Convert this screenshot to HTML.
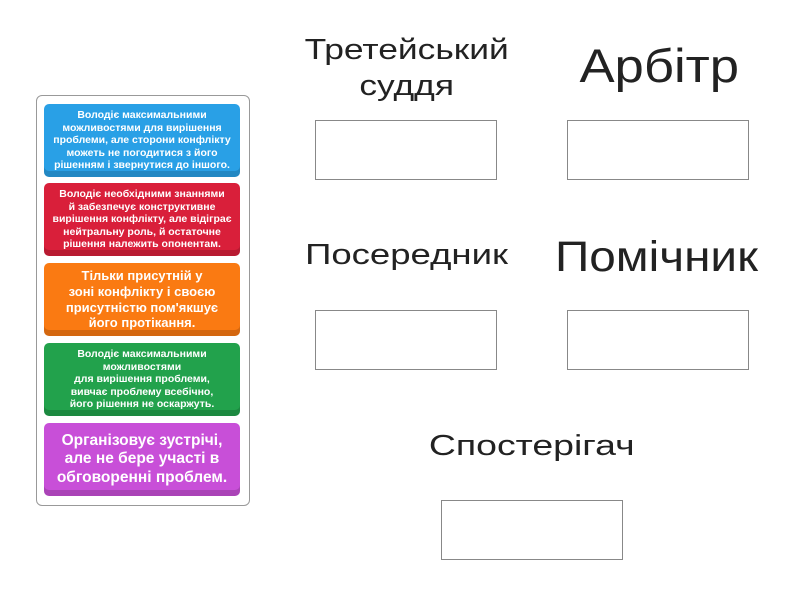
<!DOCTYPE html>
<html><head><meta charset="utf-8"><style>
body{margin:0;width:800px;height:600px;background:#fff;position:relative;font-family:"Liberation Sans","DejaVu Sans",sans-serif;overflow:hidden}
.panel{position:absolute;left:36px;top:95px;width:214px;height:411px;border:1.5px solid #999;border-radius:6px;box-sizing:border-box}
.card{position:absolute;left:44px;width:196px;height:73px;border-radius:5px;color:#fff;font-weight:bold;text-align:center;display:flex;align-items:center;justify-content:center;box-sizing:border-box;white-space:nowrap;line-height:1.2;box-shadow:inset 0 -6px 0 rgba(0,0,0,.15)}
.lbl{position:absolute;color:#222;text-align:center;line-height:1.2}
.lbl span{display:inline-block;transform:scaleX(1.2)}
.box{position:absolute;width:182px;height:60px;border:1px solid #888;box-sizing:border-box;background:#fff}
</style></head><body>
<div class="panel"></div>
<div class="card" style="top:104px;background:#29a0e6;font-size:10.5px">Володіє максимальними<br>можливостями для вирішення<br>проблеми, але сторони конфлікту<br>можеть не погодитися з його<br>рішенням і звернутися до іншого.</div>
<div class="card" style="top:183px;background:#d91f3a;font-size:10.5px">Володіє необхідними знаннями<br>й забезпечує конструктивне<br>вирішення конфлікту, але відіграє<br>нейтральну роль, й остаточне<br>рішення належить опонентам.</div>
<div class="card" style="top:263px;background:#fa7a12;font-size:13px">Тільки присутній у<br>зоні конфлікту і своєю<br>присутністю пом'якшує<br>його протікання.</div>
<div class="card" style="top:343px;background:#22a24c;font-size:10.5px">Володіє максимальними<br>можливостями<br>для вирішення проблеми,<br>вивчає проблему всебічно,<br>його рішення не оскаржуть.</div>
<div class="card" style="top:423px;background:#c84fd8;font-size:15.5px">Організовує зустрічі,<br>але не бере участі в<br>обговоренні проблем.</div>

<div class="lbl" style="left:296px;width:222px;top:32px;font-size:29px;line-height:36px"><span style="transform:scaleX(1.22)">Третейський<br>суддя</span></div>
<div class="lbl" style="left:548px;width:222px;top:38px;font-size:47px"><span style="transform:scaleX(1.12)">Арбітр</span></div>
<div class="box" style="left:315px;top:120px"></div>
<div class="box" style="left:567px;top:120px"></div>
<div class="lbl" style="left:296px;width:222px;top:238px;font-size:29px"><span style="transform:scaleX(1.26)">Посередник</span></div>
<div class="lbl" style="left:542px;width:228px;top:232px;font-size:43px"><span style="transform:scaleX(1.11)">Помічник</span></div>
<div class="box" style="left:315px;top:310px"></div>
<div class="box" style="left:567px;top:310px"></div>
<div class="lbl" style="left:421px;width:222px;top:429px;font-size:29px"><span style="transform:scaleX(1.29)">Спостерігач</span></div>
<div class="box" style="left:441px;top:500px"></div>
</body></html>
